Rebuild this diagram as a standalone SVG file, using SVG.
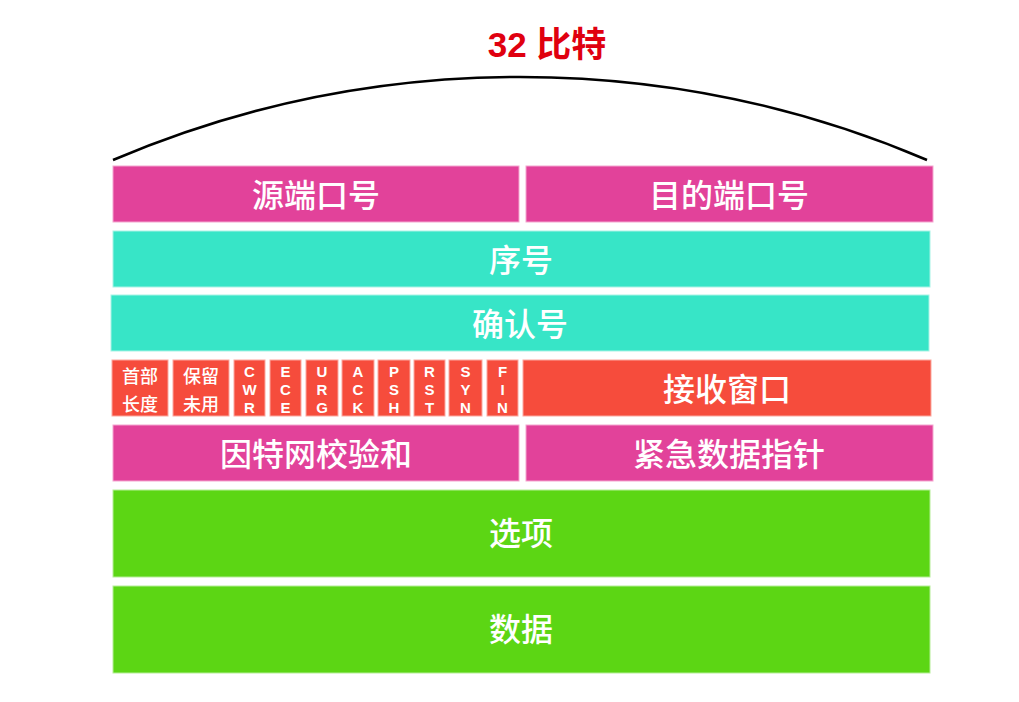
<svg xmlns="http://www.w3.org/2000/svg" width="1019" height="702" viewBox="0 0 1019 702">
<style>
.pk{fill:#E2429A;stroke:#F4A6CF;stroke-width:1}
.tl{fill:#37E5C7;stroke:#A8F3E6;stroke-width:1}
.rd{fill:#F64C3C;stroke:#FBA89F;stroke-width:1}
.gr{fill:#5CD614;stroke:#B5EE97;stroke-width:1}
.lb{fill:#fff;font-family:"Noto Sans CJK SC","Liberation Sans",sans-serif;font-weight:500;font-size:32px;text-anchor:middle;dominant-baseline:central}
.sm{fill:#fff;font-family:"Noto Sans CJK SC","Liberation Sans",sans-serif;font-weight:500;font-size:18px;text-anchor:middle;dominant-baseline:central}
.fl{fill:#fff;font-family:"Liberation Sans",Arial,sans-serif;font-weight:bold;font-size:15px;text-anchor:middle;dominant-baseline:central}
</style>
<rect width="1019" height="702" fill="#fff"/>
<g id="connectors">
<path d="M113,160 A1039,1039 0 0 1 927,160" fill="none" stroke="#000" stroke-width="2.5"/>
</g>
<g id="title"><text x="547" y="44" fill="#E0000F" font-family="Liberation Sans,'Noto Sans CJK SC',sans-serif" font-weight="bold" font-size="35" text-anchor="middle" dominant-baseline="central">32 比特</text></g>
<g id="src"><rect class="pk" x="113" y="166" width="406" height="56"/><text class="lb" x="316" y="193">源端口号</text></g>
<g id="dst"><rect class="pk" x="526" y="166" width="407" height="56"/><text class="lb" x="729" y="193">目的端口号</text></g>
<g id="seq"><rect class="tl" x="113" y="231" width="817" height="56"/><text class="lb" x="521" y="258">序号</text></g>
<g id="ack"><rect class="tl" x="111" y="295" width="818" height="56"/><text class="lb" x="520" y="322">确认号</text></g>
<g id="hlen"><rect class="rd" x="112" y="360" width="56" height="56"/><text class="sm" x="140" y="375">首部</text><text class="sm" x="140" y="403">长度</text></g>
<g id="resv"><rect class="rd" x="173" y="360" width="56" height="56"/><text class="sm" x="201" y="375">保留</text><text class="sm" x="201" y="403">未用</text></g>
<g id="cwr"><rect class="rd" x="234" y="360" width="31" height="56"/><text class="fl" x="249.5" y="371">C</text><text class="fl" x="249.5" y="389">W</text><text class="fl" x="249.5" y="407">R</text></g>
<g id="ece"><rect class="rd" x="270" y="360" width="31" height="56"/><text class="fl" x="285.5" y="371">E</text><text class="fl" x="285.5" y="389">C</text><text class="fl" x="285.5" y="407">E</text></g>
<g id="urg"><rect class="rd" x="306" y="360" width="32" height="56"/><text class="fl" x="322" y="371">U</text><text class="fl" x="322" y="389">R</text><text class="fl" x="322" y="407">G</text></g>
<g id="ackf"><rect class="rd" x="342" y="360" width="32" height="56"/><text class="fl" x="358" y="371">A</text><text class="fl" x="358" y="389">C</text><text class="fl" x="358" y="407">K</text></g>
<g id="psh"><rect class="rd" x="378" y="360" width="32" height="56"/><text class="fl" x="394" y="371">P</text><text class="fl" x="394" y="389">S</text><text class="fl" x="394" y="407">H</text></g>
<g id="rst"><rect class="rd" x="414" y="360" width="31" height="56"/><text class="fl" x="429.5" y="371">R</text><text class="fl" x="429.5" y="389">S</text><text class="fl" x="429.5" y="407">T</text></g>
<g id="syn"><rect class="rd" x="449" y="360" width="33" height="56"/><text class="fl" x="465.5" y="371">S</text><text class="fl" x="465.5" y="389">Y</text><text class="fl" x="465.5" y="407">N</text></g>
<g id="fin"><rect class="rd" x="487" y="360" width="31" height="56"/><text class="fl" x="502.5" y="371">F</text><text class="fl" x="502.5" y="389">I</text><text class="fl" x="502.5" y="407">N</text></g>
<g id="win"><rect class="rd" x="523" y="360" width="408" height="56"/><text class="lb" x="727" y="387">接收窗口</text></g>
<g id="csum"><rect class="pk" x="113" y="425" width="406" height="56"/><text class="lb" x="316" y="452">因特网校验和</text></g>
<g id="urgp"><rect class="pk" x="526" y="425" width="407" height="56"/><text class="lb" x="729" y="452">紧急数据指针</text></g>
<g id="opt"><rect class="gr" x="113" y="490" width="817" height="87"/><text class="lb" x="521" y="531">选项</text></g>
<g id="data"><rect class="gr" x="113" y="586" width="817" height="87"/><text class="lb" x="521" y="627">数据</text></g>
</svg>
